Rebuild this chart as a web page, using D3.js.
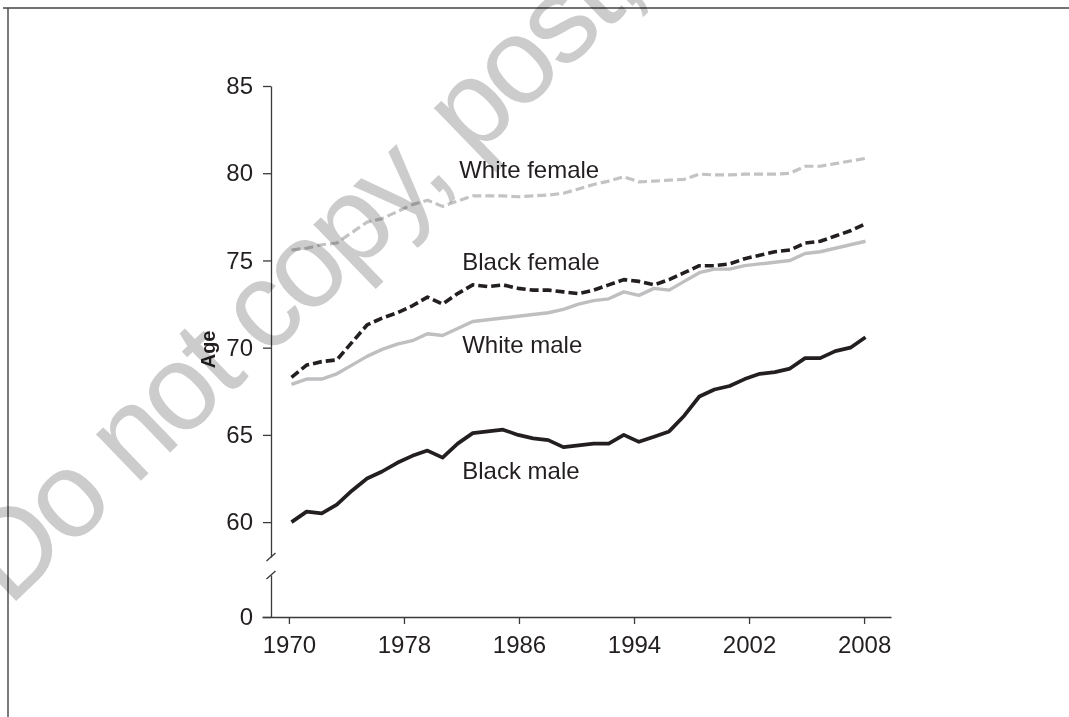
<!DOCTYPE html>
<html>
<head>
<meta charset="utf-8">
<script src="https://cdn.jsdelivr.net/npm/d3@7"></script>
<style>
  html, body { margin: 0; padding: 0; background: #fff; }
  svg { display: block; font-family: "Liberation Sans", Arial, Helvetica, sans-serif; }
</style>
</head>
<body>
<div class="chart-container"></div>
<script>
// Life expectancy at birth, by race and sex, 1970-2008
const years = d3.range(1970, 2009);

const whiteFemale = [75.6, 75.7, 75.9, 76.0, 76.6, 77.2, 77.4, 77.8, 78.2, 78.45,
                     78.1, 78.4, 78.7, 78.7, 78.7, 78.65, 78.7, 78.75, 78.85, 79.1,
                     79.35, 79.55, 79.8, 79.5, 79.55, 79.6, 79.65, 79.95, 79.9, 79.9,
                     79.95, 79.95, 79.95, 80.0, 80.4, 80.4, 80.55, 80.7, 80.85];

const blackFemale = [68.3, 69.0, 69.2, 69.3, 70.3, 71.3, 71.7, 72.0, 72.4, 72.9,
                     72.5, 73.1, 73.6, 73.5, 73.6, 73.4, 73.3, 73.3, 73.2, 73.1,
                     73.3, 73.6, 73.9, 73.8, 73.6, 73.9, 74.3, 74.7, 74.7, 74.8,
                     75.1, 75.3, 75.5, 75.6, 76.0, 76.1, 76.4, 76.7, 77.1];

const whiteMale = [67.9, 68.2, 68.2, 68.5, 69.0, 69.5, 69.9, 70.2, 70.4, 70.8,
                   70.7, 71.1, 71.5, 71.6, 71.7, 71.8, 71.9, 72.0, 72.2, 72.5,
                   72.7, 72.8, 73.2, 73.0, 73.4, 73.3, 73.8, 74.3, 74.5, 74.5,
                   74.7, 74.8, 74.9, 75.0, 75.4, 75.5, 75.7, 75.9, 76.1];

const blackMale = [60.0, 60.6, 60.5, 61.0, 61.8, 62.5, 62.9, 63.4, 63.8, 64.1,
                   63.7, 64.5, 65.1, 65.2, 65.3, 65.0, 64.8, 64.7, 64.3, 64.4,
                   64.5, 64.5, 65.0, 64.6, 64.9, 65.2, 66.1, 67.2, 67.6, 67.8,
                   68.2, 68.5, 68.6, 68.8, 69.4, 69.4, 69.8, 70.0, 70.6];

const seriesNames = ["White female", "Black female", "White male", "Black male"];
// where each name is written, in data units [year, age]
const labelAnchors = [[1981.1, 79.7], [1981.3, 74.45], [1981.3, 69.7], [1981.3, 62.5]];

const xTickLabels = ["1970", "1978", "1986", "1994", "2002", "2008"];
const yTicksUpper = [60, 65, 70, 75, 80, 85];
const yTicksLower = [0];

function draw() {

    const width = 1069;
    const height = 717;

    const svg = d3.select('.chart-container').append("svg")
        .attr("width", width)
        .attr("height", height)
        .attr("viewBox", [0, 0, width, height]);

    svg.append("rect").attr("width", width).attr("height", height).attr("fill", "#fff");

    // page frame (top and left edges)
    svg.append("path")
        .attr("d", "M3,8H1069M8,8V717")
        .attr("fill", "none")
        .attr("stroke", "#444")
        .attr("stroke-width", 1.4);

    const x = d3.scaleLinear().domain([1970, 2008]).range([291.5, 865.5]);
    // tick labels are spaced evenly in the original
    const xTicks = d3.scalePoint().domain(xTickLabels).range([262, 891]).padding(0.234);
    const yTop = d3.scaleLinear().domain([58, 85]).range([557, 86]);
    const yLow = d3.scaleLinear().domain([0, 2.5]).range([617, 575]);
    const axisX = 271;
    const axisColor = "#3a3a3a";

    function styleAxis(g) {
        g.select(".domain").attr("stroke", axisColor).attr("stroke-width", 1.3);
        g.selectAll(".tick line").attr("stroke", axisColor).attr("stroke-width", 1.3);
        g.selectAll(".tick text").attr("fill", "#231f20").style("font-size", "24px")
            .style("font-family", '"Liberation Sans", Arial, sans-serif');
    }

    svg.append("g")
        .attr("transform", `translate(${axisX},0)`)
        .call(d3.axisLeft(yTop).tickValues(yTicksUpper).tickSize(8).tickPadding(10).tickSizeOuter(0))
        .call(styleAxis);

    svg.append("g")
        .attr("transform", `translate(${axisX},0)`)
        .call(d3.axisLeft(yLow).tickValues(yTicksLower).tickFormat(d3.format("d"))
            .tickSize(8).tickPadding(10).tickSizeOuter(0))
        .call(styleAxis);

    svg.append("g")
        .attr("transform", `translate(0,${yLow(0)})`)
        .call(d3.axisBottom(xTicks).tickSize(7).tickPadding(12).tickSizeOuter(0))
        .call(styleAxis);

    // axis break marks
    svg.selectAll(".brk")
        .data([yTop(58), yLow(2.5)])
        .join("line")
        .attr("class", "brk")
        .attr("x1", axisX - 4.5).attr("y1", d => d + 4)
        .attr("x2", axisX + 4.5).attr("y2", d => d - 4)
        .attr("stroke", axisColor)
        .attr("stroke-width", 1.3);

    svg.append("text")
        .attr("transform", `translate(215,${yTop(69.9)}) rotate(-90)`)
        .attr("text-anchor", "middle")
        .attr("fill", "#231f20")
        .style("font-size", "20px")
        .style("font-weight", "bold")
        .text("Age");

    const series = [
        { values: whiteFemale, color: "#c3c3c5", dash: "9,4", w: 3.2 },
        { values: blackFemale, color: "#231f20", dash: "9,4", w: 3.6 },
        { values: whiteMale, color: "#bfbfc1", dash: null, w: 3.4 },
        { values: blackMale, color: "#231f20", dash: null, w: 3.7 }
    ];

    const line = d3.line()
        .x((d, i) => x(years[i]))
        .y(d => yTop(d));

    svg.selectAll(".series")
        .data(series)
        .join("path")
        .attr("class", "series")
        .attr("d", d => line(d.values))
        .attr("fill", "none")
        .attr("stroke", d => d.color)
        .attr("stroke-width", d => d.w)
        .attr("stroke-dasharray", d => d.dash)
        .attr("stroke-linejoin", "round");

    svg.selectAll(".lbl")
        .data(seriesNames)
        .join("text")
        .attr("class", "lbl")
        .attr("x", (d, i) => x(labelAnchors[i][0]))
        .attr("y", (d, i) => yTop(labelAnchors[i][1]))
        .attr("fill", "#231f20")
        .style("font-size", "24px")
        .text(d => d);

    // watermark
    svg.append("text")
        .attr("transform", "translate(9,608) rotate(-44)")
        .attr("fill", "#cccccc")
        .style("font-size", "122px")
        .style("letter-spacing", "-5px")
        .style("mix-blend-mode", "multiply")
        .text("Do not copy, post, or distribute");
}

draw();
</script>
</body>
</html>
